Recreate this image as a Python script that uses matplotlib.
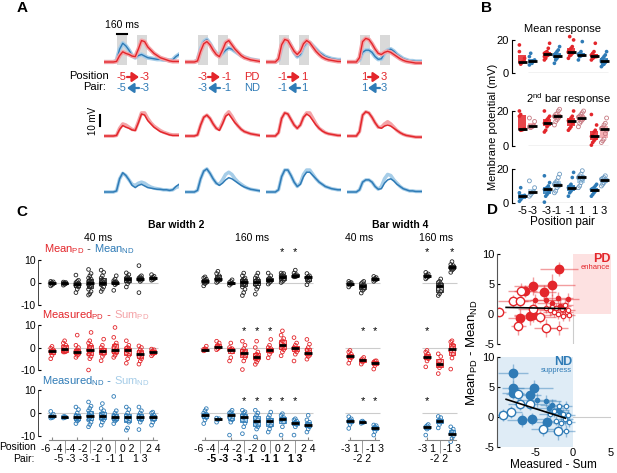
import numpy as np
import matplotlib.pyplot as plt
from matplotlib.patches import Rectangle, FancyArrowPatch

plt.rcParams['font.family'] = ['Liberation Sans', 'DejaVu Sans']
plt.rcParams['axes.unicode_minus'] = False
plt.rcParams['mathtext.fontset'] = 'custom'
plt.rcParams['mathtext.rm'] = 'Liberation Sans'
plt.rcParams['mathtext.it'] = 'Liberation Sans:italic'
plt.rcParams['mathtext.bf'] = 'Liberation Sans:bold'

RED = '#e3262b'
PINK = '#f4a3a7'
BLUE = '#2f7bb6'
LBLUE = '#a6cde8'

# ---------------- DATA ----------------
# A: mean traces (mV), sampled every 50 ms over 1200 ms
t_ms = np.arange(0, 1201, 50)
stim_windows = [(200, 360), (520, 680)]
pd_resp = [
    [0, 0, 0, 0, 0.5, 6, 9.5, 8, 7, 5.5, 5, 12, 20, 19, 14, 11, 8, 6, 4, 3, 2, 1, 0.5, 0.5, 0.5],
    [0, 0, 0, 0, 1, 10, 17, 19, 16, 11, 7, 5, 11, 18, 20, 16, 12, 9, 6, 4, 3, 2, 1.5, 1, 0.5],
    [0, 0, 0, 0, 3, 16, 21, 20, 15, 10, 7, 10, 17, 20, 18, 14, 10, 7, 4.5, 3, 2, 1.5, 1, 0.5, 0.5],
    [0, 0, 0, 0, 4, 19, 22, 21, 17, 12, 8, 7, 9, 10, 9, 7, 5, 3, 1.5, 0.5, 0, -0.5, -1, -1, -1],
]
nd_resp = [
    [0, 0, 0, 0, 1, 12, 17.5, 15, 11, 6, 4, 6, 7, 5.5, 4, 3.5, 3, 2.5, 2.5, 2, 2, 1.5, 2, 5, 7],
    [0, 0, 0, 0, 1.5, 12, 19, 21, 17, 12, 8, 6, 8, 11, 13, 12, 10, 8, 6, 4.5, 3.5, 2.5, 2, 1.5, 1],
    [0, 0, 0, 0, 2, 14, 20, 20, 15, 9, 5, 7, 14, 18, 18, 15, 12, 9, 7, 5, 4, 3, 2.5, 2, 2],
    [0, 0, 0, 0, 2, 9, 11, 11, 9, 5, 2.5, 3, 8, 11, 12, 10, 7, 5, 3, 2, 1, 1, 0.5, 0.5, 0.5],
]
sum_pd = [
    [0, 0, 0, 0, 0.5, 7, 11, 10, 8, 6, 5.5, 13, 21, 21, 16, 12, 9, 7, 5, 3.5, 2.5, 1.5, 1, 1, 1],
    [0, 0, 0, 0, 1, 10, 17, 19, 16, 11, 7, 6, 12, 19, 22, 18, 13, 9, 6, 4, 3, 2, 1.5, 1, 0.5],
    [0, 0, 0, 0, 3, 16, 21, 20, 15, 10, 7, 10, 17, 21, 21, 16, 11, 7, 5, 3, 2, 1.5, 1, 0.5, 0.5],
    [0, 0, 0, 0, 4, 19, 22, 21, 17, 12, 8, 8, 11, 13, 11, 8, 5, 3, 1.5, 0.5, 0, -0.5, -1, -1, -1],
]
sum_nd = [
    [0, 0, 0, 0, 1, 12, 17, 15, 11, 7, 6, 8, 9, 8, 6, 4.5, 3.5, 3, 2.5, 2, 2, 1.5, 2, 4, 5],
    [0, 0, 0, 0, 1.5, 12, 19, 21, 17, 12, 8, 7, 11, 16, 18, 16, 12, 9, 7, 5, 3.5, 2.5, 2, 1.5, 1],
    [0, 0, 0, 0, 2, 14, 20, 20, 15, 9, 5, 8, 16, 20, 20, 16, 12, 9, 7, 5, 4, 3, 2.5, 2, 2],
    [0, 0, 0, 0, 2, 9, 11, 11, 9, 5, 2.5, 5, 12, 16, 15, 11, 8, 5, 3, 2, 1, 1, 0.5, 0.5, 0.5],
]
pair_left = ['-5', '-3', '-1', '1']
pair_right = ['-3', '-1', '1', '3']

# B: response per cell (mV)
b_labels = ['-5', '-3', '-3', '-1', '-1', '1', '1', '3']
b_mean = [
    [17, 6, 6.5, 7, 9, 13, 5.5],
    [5, 6.5, 7, 7.5, 8, 10, 12, 6],
    [8, 9, 10.5, 11, 11.5, 12, 12.5, 13, 15, 18, 10],
    [6, 8, 9, 10, 10.5, 11, 12, 13, 14, 16, 10.5, 9.5],
    [9, 10.5, 11, 12, 12.5, 13, 14, 15, 16, 20, 12.5, 22],
    [8, 10, 10.5, 11, 11, 11.5, 12, 13, 19, 11],
    [8, 9, 9.5, 10.5, 10.5, 11, 12, 13, 18, 10],
    [4, 5, 5.5, 6.5, 7.5, 8, 9, 10, 11, 13, 7, 6],
]
b_second_pd = [
    [20, 9, 9.2, 9.5, 9.8, 17, 18],
    [16, 10.5, 11, 11.5, 14, 11],
    [8, 9, 11, 12, 13, 13, 14, 15, 16, 17, 20],
    [12, 14, 15, 16, 17, 17, 18, 18.5, 20, 21],
    [9, 10, 11, 13, 14, 14.5, 15, 16, 17, 20],
    [11, 13, 14, 15, 16, 16.5, 17, 18, 19, 20],
    [0.5, 2, 3, 4, 5, 5.5, 6, 8, 9, 12, 18],
    [2, 3, 4, 7, 9, 10, 10.5, 12, 13, 16],
]
b_second_nd = [
    [1, 2, 3, 4, 4.5, 6, 9],
    [4, 5, 6, 6.5, 9, 13],
    [0.5, 4, 5, 6, 7, 8, 8.5, 9, 10, 12, 16],
    [6, 7, 9, 10, 10.5, 11, 12, 13, 15, 17],
    [4, 6, 7, 8, 9, 9, 10, 11, 15, 18],
    [9, 10, 12, 14, 15, 15, 16, 17, 19],
    [4, 5, 6, 7, 7.5, 8, 8.5, 9, 10, 11],
    [10, 11, 12, 13, 13.5, 14, 14.5, 15, 16],
]

# C: differences (mV) per position pair; sections 40ms/160ms bar width 2, 40ms/160ms bar width 4
c_mean_diff = [
    [[-1.5, -1, -0.6, -0.3, 0, 0.3, 0.5], [-1.2, -0.8, -0.5, -0.4, -0.2, 0, 0.2],
     [-4.5, -3, -2, -1.5, -1, -0.5, 0, 0.5, 1, 3.3],
     [-5.6, -5, -4, -3, -2, -1.5, -1, -0.5, 0, 0.5, 1, 1.5, 2, 3, 4, 5.8],
     [-4, -3, -2, -1, -0.5, 0, 0, 0.5, 1, 2, 3, 4.5, 5.5], [-3.5, -1, -0.5, 0, 0, 0.3, 0.8, 1.5, 3],
     [-2, -0.5, 0.3, 0.8, 1.2, 1.5, 2, 2.5, 3.5, 4.3], [-4.5, 0.5, 1, 1.3, 1.5, 1.8, 2, 2.5, 3, 7.5],
     [1, 1.3, 1.6, 2, 2.3, 2.8, 3.5]],
    [[-1.5, -0.5, 0, 0.5, 1, 1.5, 2, 2.5], [0, 0.5, 1, 1.5, 2, 3, 4, 5], [-1.2, -0.5, -0.3, 0, 0.5, 1.2],
     [-5.8, -4.5, -3, -2, -1, -0.5, 0, 0.2, 0.5, 1, 1.5, 2, 3, 4.2],
     [-5.2, -3, -2, -1, -0.5, 0.3, 0.5, 1, 1.5, 2, 3, 4.2], [-0.7, 0, 0.5, 0.8, 1, 1.2, 1.5, 2, 3, 4.2],
     [0, 0.5, 1, 2, 2.5, 2.8, 3, 3.5, 4, 4.2], [2.5, 2.6, 2.8, 3, 3.2, 3.5, 4.2, 5.5],
     [-1, 0.5, 1, 2, 2.5, 3, 4, 2.7]],
    [[-2, -1.2, -0.8, -0.5, -0.2, 0, 0.5], [-4.7, -3.5, -3, -2, -1.5, -1, -0.5, 0, 0.5],
     [0.5, 1, 1.3, 1.5, 1.8, 2.2, 2.7]],
    [[1.6, 2.2, 2.6, 3, 3.3, 3.8, 4.5], [-5.8, -5, -4, -3, -1.5, -0.5, 0, 0.5, 1.6],
     [4.5, 5.5, 6, 6.5, 7, 7.5, 8, 9.3]],
]
c_pd_nonlin = [
    [[-5, -3.5, -2.5, -1.8, -1.5, -1, -0.3, 0.5], [-2, -2, -1.8, -1, 0, 1, 2, 3],
     [-4.4, -3.5, -3, -2.5, -2, -1.8, -1.5, -1, 0, 1, 5.5], [-10, -5, -4, -3, -2, -1.5, -1, 0, 1, 2, 3, 6.7],
     [-5.9, -4, -3, -2, -1.5, -1, 0, 1, 3.7], [-4.4, -3.5, -2.5, -2, -1.5, -1, 0, 1, 2, 4.5, 8.9],
     [-7, -5, -3.5, -2.5, -1.5, -0.5, -0.3, 0, 1, 3], [-7.4, -6, -5, -4, -3, -2.5, -2, -1, 0, 0.7],
     [-3.7, -3, -2.5, -1.8, -1.5, -1, -0.7]],
    [[-1.5, -1.2, -1, -0.8, -0.5, 0.6], [-1, -0.5, 0, 0.3, 1, 2, 2.8], [-6, -4.5, -2, -1, -0.8, -0.5, 0, 2],
     [-9.8, -6, -4.5, -3, -2.5, -2, -1.5, -0.5, 1, 2.8], [-7.5, -6.5, -5.5, -5, -4.5, -4, -3.5, -3, -2, 0, 2.8],
     [-4.6, -3, -2, -1.5, -1, -0.5, 0, 1, 3.6], [-3.7, -2, -1, 0, 0.5, 1, 2, 3, 4, 5.5, 7.4],
     [-6, -3, -2, -1, -0.5, -0.3, 0, 1, 2, 4.4], [-5.2, -4, -3.5, -3, -2.5, -2, -1, 0, 1.5, 3.6]],
    [[-7, -5.5, -4.5, -4, -3.7, -3, -2, -1.3], [-7.4, -6.5, -6, -5.5, -5, -4.4], [-9.6, -8, -7, -6.5, -6, -5.9]],
    [[-8.6, -6, -5, -4.5, -4, -3, -2, -1.3], [-11.6, -9, -8, -7.5, -6, -4, -2.8], [-9.6, -4.7, -3, -1.5, 0, 1, 2.5, 3]],
]
c_nd_nonlin = [
    [[-2.2, -2, -1.8, -1.5, -1.2, -0.5, 0.7], [-2.2, -2, -1.8, -1.6, -1.5],
     [-4.6, -3.5, -3, -2.5, -2, -1.5, -1, 0, 1.5, 2.6], [-6, -5, -4, -3, -2, -1.5, -1.2, -1, 0, 1, 2, 3, 4.8],
     [-5.3, -4, -3, -2.5, -2, -1.5, -1, 0, 1, 2, 4.1], [-4.6, -3.5, -3, -2.5, -2, -1.5, -1, 0, 1, 7.2],
     [-7.5, -6.5, -4, -3, -2, -1.5, -1, 0, 1.5, 2.6], [-7.2, -4, -3, -2.5, -2, -1.5, -1, 0, 1, 2.6],
     [-5.3, -4, -3, -2, -1.5, -1, 0, 0.4]],
    [[-4.6, -3, -2, -1.5, -1, -0.5, 0, 1, 1.9], [-4, -3, -2.5, -2.2], [-9.6, -4, -3, -2, -1, -0.5, 0, 0.5, 1.2],
     [-9, -6, -4.5, -3, -2, -1.5, -1, 0, 0.5, 1.2], [-10.4, -7, -6, -5, -4, -3, -2, -1, 0, 1.2],
     [-8.3, -7, -5.5, -4.5, -3.5, -3, -2, -1, 0.4], [-9.6, -6, -4, -3, -2.5, -2, -1, -0.3],
     [-9.6, -6, -5, -4.5, -4, -3.5, -3, -2.5], [-8.3, -7, -6, -5.5, -5, -4, -3, -1]],
    [[-6.7, -5, -4, -3.5, -3, -2.5, -1.6], [-4.5, -4.2, -4, -3.8, -3.5], [-9.6, -8, -7, -6.5, -6, -5.5, -5.2]],
    [[-9.6, -7, -6.5, -6, -5.5, -5], [-6.5, -5, -4, -3.5, -3, -2, -1.5], [-12.5, -11, -10, -9, -8, -7, -6]],
]
c_stars = [
    [[], [7, 8], [], [1, 3]],
    [[], [4, 5, 6], [2, 3], [1]],
    [[], [4, 5, 6, 7, 8], [2, 3], [1]],
]
wide_major = ['-6 -4', '-4 -2', '-2 0', '0 2', '2 4']
wide_minor = ['-5 -3', '-3 -1', '-1 1', '1 3']
bar4_major = ['-3 1', '-1 3']
bar4_minor = ['-2 2']

# D: Measured - Sum (x) vs Mean_PD - Mean_ND (y), with SEM
d_pd = {
    'big_fill': dict(x=[-1.8, -5.3, -2.8, -6.3, -3.8, -7.0, -5.7, -5.2], y=[7.5, 4.7, 4.8, 3.9, 3.6, -0.7, -0.3, -0.1],
                     xe=[2.5, 2.5, 3.0, 1.5, 1.5, 1.5, 2.0, 2.5], ye=[1.2, 1.5, 1.8, 1.0, 1.2, 1.5, 1.5, 1.2]),
    'big_open': dict(x=[-9.8, -6.8, -7.9, -7.0, -7.2, -3.6, -5.2, -4.3], y=[0.4, 3.9, 2.1, 2.1, -2.0, -2.3, 0.9, -0.5],
                     xe=[1.0, 1.8, 2.0, 1.5, 1.0, 1.5, 2.0, 2.0], ye=[0.8, 1.2, 1.0, 1.0, 1.5, 1.5, 1.2, 1.0]),
    'small_fill': dict(x=[-5.0, -3.6, -2.0, -0.7, -2.7, -1.7], y=[2.4, 2.3, 2.6, 2.5, 1.8, 1.3],
                       xe=[3.0, 2.0, 2.0, 1.5, 2.0, 1.5], ye=[1.0, 1.2, 1.0, 1.0, 1.5, 1.2]),
    'small_open': dict(x=[-3.5, -2.8, -2.2, -1.5, -1.0, -0.8, -1.3, -0.5, -2.5, -1.9, -2.0, -3.0, -0.6],
                       y=[1.0, 1.2, 1.0, 0.8, 1.5, 0.3, -0.3, -0.1, 0.3, -2.3, 0.0, 0.6, 0.6],
                       xe=[1.5, 1.0, 1.5, 1.0, 1.0, 0.8, 1.0, 0.8, 1.5, 1.2, 1.0, 1.5, 0.8],
                       ye=[0.8, 1.0, 0.8, 1.0, 1.2, 0.8, 0.8, 1.0, 0.8, 1.2, 0.8, 1.0, 0.8]),
}
d_nd = {
    'big_fill': dict(x=[-7.9, -7.9, -7.9, -5.1, -5.7, -6.7, -5.4, -3.4], y=[7.4, 4.8, 4.0, 4.9, 3.6, -0.5, -0.4, -0.8],
                     xe=[2.0, 1.5, 1.5, 2.5, 1.5, 2.0, 2.0, 1.5], ye=[1.5, 1.2, 1.0, 1.2, 1.0, 1.2, 1.0, 1.5]),
    'big_open': dict(x=[-9.2, -8.2, -7.3, -5.7, -7.0, -4.0, -2.0], y=[0.3, 0.8, 3.8, 2.1, 2.1, -2.0, -2.3],
                     xe=[1.0, 1.5, 1.5, 2.0, 1.5, 1.5, 1.5], ye=[1.0, 1.0, 1.2, 1.0, 1.0, 1.2, 1.5]),
    'small_fill': dict(x=[-4.8, -3.6, -2.8, -2.0, -3.2, -1.7], y=[2.8, 2.6, 2.0, 1.2, 1.5, 0.8],
                       xe=[2.5, 2.0, 1.5, 1.5, 2.0, 1.2], ye=[1.2, 1.0, 1.0, 1.0, 1.2, 0.8]),
    'small_open': dict(x=[-3.0, -2.5, -1.8, -0.9, -1.3, -0.6, -1.0, -1.6, -0.9, -2.2, -0.5],
                       y=[0.5, 1.0, 1.9, 1.9, 0.5, 0.3, -0.3, -1.0, -2.3, -0.6, -0.8],
                       xe=[1.5, 1.2, 1.0, 0.8, 1.0, 0.8, 1.0, 1.0, 1.2, 1.0, 0.8],
                       ye=[0.8, 1.0, 0.8, 0.8, 0.8, 0.8, 1.0, 1.0, 1.0, 0.8, 0.8]),
}
fit_x = [-8.8, -1.0]
fit_pd = [1.1, 0.9]
fit_nd = [2.95, -0.2]

# ---------------- FIGURE ----------------
W, H = 617, 473
fig = plt.figure(figsize=(W / 100, H / 100), dpi=100)


def axpx(x0, y0, x1, y1):
    return fig.add_axes([x0 / W, 1 - y1 / H, (x1 - x0) / W, (y1 - y0) / H])


def ftext(x, y, s, **kw):
    return fig.text(x / W, 1 - y / H, s, **kw)


def ctext(x, y, parts, size=8):
    r = fig.canvas.get_renderer()
    for s, c in parts:
        t = ftext(x, y, s, color=c, fontsize=size, va='baseline')
        x += t.get_window_extent(r).width


def farrow(xa, xb, y, color):
    fig.add_artist(FancyArrowPatch((xa / W, 1 - y / H), (xb / W, 1 - y / H), transform=fig.transFigure,
                                   arrowstyle='-|>,head_length=0.5,head_width=0.35', mutation_scale=8,
                                   lw=1.6, color=color, shrinkA=0, shrinkB=0))


for lbl, x, y in [('A', 22, 8), ('B', 487, 8), ('C', 22, 212), ('D', 492, 210)]:
    ftext(x, y, lbl, fontsize=11, fontweight='bold', ha='center', va='center')

# ---- A ----
cols_x = [(104, 179), (185, 260), (266, 341), (347, 422)]
rows_y = [(35.2, 65.2), (108.5, 139.3), (164.5, 195.3)]
arrow_x = [(127, 139), (208, 220), (288, 300), (368, 380)]
for c in range(4):
    x0, x1 = cols_x[c]
    axs = [axpx(x0, y0, x1, y1) for (y0, y1) in rows_y]
    for a in axs:
        a.set_xlim(0, 1200)
        a.set_ylim(-3, 25)
        a.axis('off')
    top, mid, bot = axs
    for s0, s1 in stim_windows:
        top.axvspan(s0, s1, color='#d9d9d9', lw=0, zorder=0)
    top.plot(t_ms, nd_resp[c], color=LBLUE, lw=3)
    top.plot(t_ms, nd_resp[c], color=BLUE, lw=1)
    top.plot(t_ms, pd_resp[c], color=PINK, lw=3)
    top.plot(t_ms, pd_resp[c], color=RED, lw=1)
    mid.plot(t_ms, sum_pd[c], color=PINK, lw=2.5)
    mid.plot(t_ms, pd_resp[c], color=RED, lw=1.1)
    bot.plot(t_ms, sum_nd[c], color=LBLUE, lw=2.5)
    bot.plot(t_ms, nd_resp[c], color=BLUE, lw=1.1)
    if c == 0:
        top.plot([200, 360], [26.5, 26.5], color='k', lw=1.5, clip_on=False)
        top.text(290, 30, '160 ms', fontsize=7.5, ha='center', va='bottom')
        mid.plot([-64, -64], [9, 19], color='k', lw=1.5, clip_on=False)
        mid.text(-180, 14, '10 mV', fontsize=7, rotation=90, ha='center', va='center')
    xa, xb = arrow_x[c]
    for y, col, left in [(77, RED, False), (88, BLUE, True)]:
        ftext(xa - 1, y, pair_left[c], color=col, fontsize=8, ha='right', va='center')
        ftext(xb + 1, y, pair_right[c], color=col, fontsize=8, ha='left', va='center')
        if left:
            farrow(xb, xa, y, col)
        else:
            farrow(xa, xb, y, col)
ftext(89, 76, 'Position', fontsize=8, ha='center', va='center')
ftext(95, 87, 'Pair:', fontsize=8, ha='center', va='center')
ftext(252, 77, 'PD', fontsize=8, color=RED, ha='center', va='center')
ftext(252, 88, 'ND', fontsize=8, color=BLUE, ha='center', va='center')

# ---- B ----
b_pos = [1.0, 2.0, 3.5, 4.5, 5.9, 6.9, 8.2, 9.2]
b_rows = [
    (36.6, 73.3, b_mean, [RED, BLUE] * 4, [True] * 8),
    (107.5, 146, b_second_pd, [RED, PINK] * 4, [True, False] * 4),
    (165.6, 203, b_second_nd, [BLUE, LBLUE] * 4, [True, False] * 4),
]
for ri, (y0, y1, vals, cols, filled) in enumerate(b_rows):
    ax = axpx(512, y0, 612, y1)
    ax.set_xlim(0, 10)
    ax.set_ylim(0, 22)
    for sp in ['top', 'right', 'bottom']:
        ax.spines[sp].set_visible(False)
    ax.spines['left'].set_bounds(0, 20)
    ax.spines['left'].set_linewidth(0.8)
    ax.set_yticks([0, 20])
    ax.tick_params(axis='y', direction='in', length=2, labelsize=8, pad=2)
    ax.hlines(0, 1.6, 9.6, color='#9a9a9a', lw=0.9)
    for gi, v in enumerate(vals):
        q1, med, q3 = np.percentile(v, [25, 50, 75])
        p = b_pos[gi]
        ax.add_patch(Rectangle((p - 0.4, q1), 0.8, q3 - q1, color=cols[gi], alpha=0.85, lw=0, zorder=1))
        off = [((i % 5) - 2) * 0.13 for i in range(len(v))]
        if filled[gi]:
            dark = RED if cols[gi] == RED else BLUE
            ax.scatter(np.array(off) + p, v, s=7, color=dark, edgecolor='none', zorder=2, clip_on=False)
        else:
            edge = '#c77a82' if cols[gi] == PINK else '#6f9cc2'
            ax.scatter(np.array(off) + p, v, s=8, facecolor='none', edgecolor=edge, lw=0.6, zorder=2, clip_on=False)
        ax.plot([p - 0.45, p + 0.45], [med, med], color='k', lw=2, zorder=3, solid_capstyle='butt')
    if ri == 2:
        ax.set_xticks(b_pos, b_labels)
        ax.tick_params(axis='x', length=0, labelsize=8, pad=2)
    else:
        ax.set_xticks([])
ftext(563, 29, 'Mean response', fontsize=8, ha='center', va='center')
ftext(568, 99, r'2$^{\mathrm{nd}}$ bar response', fontsize=8, ha='center', va='center')
ftext(562, 222, 'Position pair', fontsize=8.5, ha='center', va='center')
ftext(493, 127, 'Membrane potential (mV)', fontsize=8, rotation=90, ha='center', va='center')

# ---- C ----
sec_px = [(52, 12.6, 9), (205, 12.9, 9), (350, 12.5, 3), (427, 12.5, 3)]
row_px = [(260, 305), (325, 370), (390, 436)]
row_data = [c_mean_diff, c_pd_nonlin, c_nd_nonlin]
row_edge = ['#222222', RED, BLUE]
row_face = ['#bdbdbd', '#f7b3b5', '#b5d3ea']
star_y = [13.5, 7.5, 5.0]
for si, (g1, sp, n) in enumerate(sec_px):
    x0 = g1 - 1.1 * sp
    x1 = g1 + (n - 0.5) * sp
    for ri, (y0, y1) in enumerate(row_px):
        ax = axpx(x0, y0, x1, y1)
        ax.set_xlim(-0.1, n + 0.5)
        ax.set_ylim(-10, 10)
        for s in ['top', 'right', 'bottom', 'left']:
            ax.spines[s].set_visible(False)
        ax.hlines(0, 0.6, n + 0.4, color='#cccccc', lw=0.8, zorder=0)
        for gi, v in enumerate(row_data[ri][si]):
            p = gi + 1
            q1, med, q3 = np.percentile(v, [25, 50, 75])
            ax.add_patch(Rectangle((p - 0.25, q1), 0.5, q3 - q1, facecolor=row_face[ri],
                                   edgecolor=row_edge[ri], lw=0.6, zorder=1))
            off = [((i % 3) - 1) * 0.1 for i in range(len(v))]
            ax.scatter(np.array(off) + p, v, s=7, facecolor='none', edgecolor=row_edge[ri], lw=0.6,
                       zorder=2, clip_on=False)
            ax.plot([p - 0.3, p + 0.3], [med, med], color='k', lw=2, zorder=3, solid_capstyle='butt')
        for g in c_stars[ri][si]:
            ax.text(g, star_y[ri], '*', fontsize=8, ha='center', va='center')
        if si == 0:
            ax.spines['left'].set_visible(True)
            ax.spines['left'].set_color('#444444')
            ax.spines['left'].set_linewidth(0.7)
            ax.set_yticks([-10, 0, 10])
            ax.tick_params(axis='y', direction='in', length=2, labelsize=7.5, pad=2)
        else:
            ax.set_yticks([])
        if ri == 2:
            ax.spines['bottom'].set_visible(True)
            ax.spines['bottom'].set_position(('outward', 3))
            ax.spines['bottom'].set_bounds(0.8, n + 0.3)
            ax.spines['bottom'].set_color('#888888')
            if n == 9:
                ax.set_xticks([1, 3, 5, 7, 9], wide_major)
                ax.set_xticks([2, 4, 6, 8], wide_minor, minor=True)
            else:
                ax.set_xticks([1, 3], bar4_major)
                ax.set_xticks([2], bar4_minor, minor=True)
            ax.tick_params(axis='x', which='major', direction='in', length=2, pad=2.5, labelsize=7.5,
                           color='#888888')
            ax.tick_params(axis='x', which='minor', direction='out', length=9, pad=1, labelsize=7.5,
                           color='#888888')
            if si == 1:
                for t in ax.get_xticklabels(minor=True):
                    t.set_fontweight('bold')
        else:
            ax.set_xticks([])

ftext(176, 225, 'Bar width 2', fontsize=7.5, fontweight='bold', ha='center', va='center')
ftext(400, 225, 'Bar width 4', fontsize=7.5, fontweight='bold', ha='center', va='center')
for x, s in [(98, '40 ms'), (252, '160 ms'), (359, '40 ms'), (436, '160 ms')]:
    ftext(x, 238, s, fontsize=7.5, ha='center', va='center')
ftext(18, 447, 'Position', fontsize=7.5, ha='center', va='center')
ftext(24, 459, 'Pair:', fontsize=7.5, ha='center', va='center')
ctext(44, 252, [(r'Mean$_{\mathrm{PD}}$', RED), (' - ', '#444444'), (r'Mean$_{\mathrm{ND}}$', BLUE)], size=8)
ctext(42, 318, [(r'Measured$_{\mathrm{PD}}$', RED), (' - ', RED), (r'Sum$_{\mathrm{PD}}$', PINK)], size=8)
ctext(42, 384, [(r'Measured$_{\mathrm{ND}}$', BLUE), (' - ', BLUE), (r'Sum$_{\mathrm{ND}}$', LBLUE)], size=8)

# ---- D ----
for (y0, y1), dset, col, fit in [((254, 344), d_pd, RED, fit_pd), ((357, 447), d_nd, BLUE, fit_nd)]:
    ax = axpx(497, y0, 611, y1)
    ax.set_xlim(-10, 5)
    ax.set_ylim(-5, 10)
    for s in ['top', 'right', 'bottom']:
        ax.spines[s].set_visible(False)
    ax.spines['left'].set_color('#555555')
    ax.spines['left'].set_linewidth(0.8)
    ax.set_yticks([-5, 0, 5, 10])
    ax.tick_params(axis='y', direction='in', length=2, labelsize=8, pad=2)
    if col == RED:
        ax.fill_between([0, 5], 0, 10, color='#fde1e1', lw=0, zorder=0)
        ax.plot([0, 0], [-5, 0], color='#cccccc', lw=0.8, zorder=0)
        ax.text(4.9, 9.2, 'PD', color=RED, fontsize=9, fontweight='bold', ha='right', va='center')
        ax.text(4.9, 7.7, 'enhance', color=RED, fontsize=5.5, ha='right', va='center')
        ax.set_xticks([])
    else:
        ax.fill_between([-10, 0], -5, 10, color='#dfecf6', lw=0, zorder=0)
        ax.plot([0, 5], [0, 0], color='#cccccc', lw=0.8, zorder=0)
        ax.text(-0.1, 9.2, 'ND', color=BLUE, fontsize=9, fontweight='bold', ha='right', va='center')
        ax.text(-0.1, 7.7, 'suppress', color=BLUE, fontsize=5.5, ha='right', va='center')
        ax.set_xticks([-5, 0, 5])
        ax.tick_params(axis='x', length=0, labelsize=8, pad=0.5)
    for key, d in dset.items():
        ax.errorbar(d['x'], d['y'], xerr=d['xe'], yerr=d['ye'], fmt='none', ecolor=col, alpha=0.45,
                    lw=1, zorder=1)
    for key, d in dset.items():
        big = key.startswith('big')
        fill = key.endswith('fill')
        ax.plot(d['x'], d['y'], 'o', ms=6 if big else 3.2, mfc=col if fill else 'white', mec=col,
                mew=1.0 if big else 0.8, ls='none', zorder=2)
    ax.plot(fit_x, fit, color='k', lw=1.2, zorder=3)
ftext(553, 465, 'Measured - Sum', fontsize=8.5, ha='center', va='center')
ftext(472, 353, r'Mean$_{\mathrm{PD}}$ - Mean$_{\mathrm{ND}}$', fontsize=9.5, rotation=90, ha='center', va='center')

fig.savefig('out.png', dpi=100)
